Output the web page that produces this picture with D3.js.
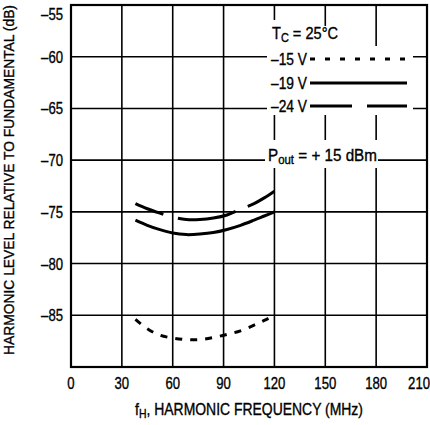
<!DOCTYPE html>
<html>
<head>
<meta charset="utf-8">
<script src="https://cdn.jsdelivr.net/npm/d3@7"></script>
<style>
  body { margin: 0; background: #fff; }
  svg text { font-family: 'Liberation Sans', Arial, sans-serif; fill: #000; stroke: #000; stroke-width: 0.35; }
</style>
</head>
<body>
<svg id="chart" width="430" height="425"></svg>
<script>
// ---- data ----
const freq = [38, 45, 52, 60, 68, 76, 84, 92, 100, 108, 114, 120];
const v15 = [-85.4, -86.3, -86.9, -87.2, -87.35, -87.35, -87.15, -86.85, -86.5, -85.95, -85.5, -85.0];
const v19 = [-75.8, -76.3, -76.7, -77.05, -77.2, -77.15, -77.0, -76.7, -76.3, -75.8, -75.4, -75.0];
const v24 = [-74.2, -74.7, -75.1, -75.5, -75.75, -75.75, -75.6, -75.3, -74.75, -74.2, -73.65, -73.0];
const seriesNames = ["\u201315 V", "\u201319 V", "\u201324 V"];
const xTicks = [0, 30, 60, 90, 120, 150, 180, 210];
const yTicks = [-55, -60, -65, -70, -75, -80, -85, -90];
const yLabels = [-55, -60, -65, -70, -75, -80, -85];

const svg = d3.select("#chart");
const L = 71, T = 5, R = 427, B = 367;
const x = d3.scaleLinear().domain([0, 210]).range([L, R]);
const y = d3.scaleLinear().domain([-90, -55]).range([B, T]);

// place text at (px,py) with a horizontal squeeze; if target given, fit width to target
function place(sel, px, py, opts = {}) {
  sel.attr("x", 0).attr("y", 0);
  let s = opts.scale || 0.82;
  if (opts.target) {
    const w = sel.node().getComputedTextLength();
    s = opts.target / w;
  }
  const rot = opts.rotate ? ` rotate(${opts.rotate})` : "";
  sel.attr("transform", `translate(${px},${py})${rot} scale(${s},1)`);
  return sel;
}

// grid
const g = svg.append("g");
g.selectAll("line.v").data(xTicks).join("line")
  .attr("x1", d => x(d)).attr("x2", d => x(d)).attr("y1", T).attr("y2", B)
  .attr("stroke", "#000").attr("stroke-width", 1.6);
g.selectAll("line.h").data(yTicks).join("line")
  .attr("x1", L).attr("x2", R).attr("y1", d => y(d)).attr("y2", d => y(d))
  .attr("stroke", "#000").attr("stroke-width", 1.6);

// white areas behind legend texts
svg.append("path").attr("d", "M267,20 H300 V26 H360 V46 H413 V115 H267 Z").attr("fill", "#fff");
svg.append("rect").attr("x", 265).attr("y", 140).attr("width", 113).attr("height", 28).attr("fill", "#fff");

// frame
svg.append("rect").attr("x", L).attr("y", T).attr("width", R - L).attr("height", B - T)
  .attr("fill", "none").attr("stroke", "#000").attr("stroke-width", 2.2);

// axes tick labels
yLabels.forEach(d => {
  const t = svg.append("text").attr("text-anchor", "end").attr("font-size", 16)
    .text(String(d).replace("-", "\u2013"));
  place(t, 63, Math.max(y(d) + 6, 20));
});
xTicks.forEach((d, i) => {
  const last = i === xTicks.length - 1;
  const t = svg.append("text").attr("text-anchor", last ? "end" : "middle").attr("font-size", 16).text(d);
  place(t, last ? 430 : x(d), 389);
});

// axis titles
const xt = svg.append("text").attr("text-anchor", "middle").attr("font-size", 16);
xt.append("tspan").text("f");
xt.append("tspan").attr("font-size", 12).attr("dy", 3).text("H");
xt.append("tspan").attr("dy", -3).text(", HARMONIC FREQUENCY (MHz)");
place(xt, 249, 415, { target: 228 });
const yt = svg.append("text").attr("text-anchor", "middle").attr("font-size", 15.5)
  .text("HARMONIC LEVEL RELATIVE TO FUNDAMENTAL (dB)");
place(yt, 14, 180, { target: 350, rotate: -90 });

// curves
const line = d3.line().x(d => x(d[0])).y(d => y(d[1])).curve(d3.curveCatmullRom);
const series = [
  { vals: v15, dash: "7,8" },
  { vals: v19, dash: null },
  { vals: v24, dash: "30,15,59,13,40" }
];
svg.append("g").selectAll("path").data(series).join("path")
  .attr("d", s => line(freq.map((f, i) => [f, s.vals[i]])))
  .attr("fill", "none").attr("stroke", "#000").attr("stroke-width", 3)
  .attr("stroke-dasharray", s => s.dash);

// legend
const tc = svg.append("text").attr("font-size", 16);
tc.append("tspan").text("T");
tc.append("tspan").attr("font-size", 12).attr("dy", 3).text("C");
tc.append("tspan").attr("dy", -3).text(" = 25\u00B0C");
place(tc, 272, 39, { target: 66 });

const legY = [59, 83, 106];
const legDash = ["5,10", null, "42,15,40"];
seriesNames.forEach((n, i) => {
  const t = svg.append("text").attr("text-anchor", "end").attr("font-size", 16).text(n);
  place(t, 307, legY[i] + 6, { target: 36 });
  svg.append("line").attr("x1", 310).attr("x2", 407).attr("y1", legY[i]).attr("y2", legY[i])
    .attr("stroke", "#000").attr("stroke-width", 3).attr("stroke-dasharray", legDash[i]);
});

const po = svg.append("text").attr("font-size", 16);
po.append("tspan").text("P");
po.append("tspan").attr("font-size", 12).attr("dy", 3).text("out");
po.append("tspan").attr("dy", -3).text(" = + 15 dBm");
place(po, 268, 161, { target: 109 });
</script>
</body>
</html>
